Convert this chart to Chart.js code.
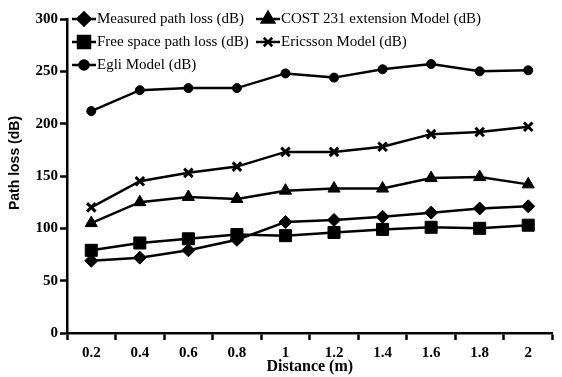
<!DOCTYPE html>
<html lang="en">

<head>
    <meta charset="UTF-8">
    <title>Path loss vs distance</title>
    <script src="https://cdn.jsdelivr.net/npm/chart.js"></script>
    <style>
        body { margin: 0; background: #fff; }
        #wrap { width: 562px; height: 377px; }
    </style>
</head>

<body>
    <div id="wrap"><canvas id="loss-chart" width="562" height="377"></canvas></div>

    <script>
        const distances = ['0.2', '0.4', '0.6', '0.8', '1', '1.2', '1.4', '1.6', '1.8', '2'];
        const yTicks = [0, 50, 100, 150, 200, 250, 300];

        const measured = [69, 72, 79, 89, 106, 108, 111, 115, 119, 121];
        const freeSpace = [79, 86, 90, 94, 93, 96, 99, 101, 100, 103];
        const egli = [212, 232, 234, 234, 248, 244, 252, 257, 250, 251];
        const cost231 = [105, 125, 130, 128, 136, 138, 138, 148, 149, 142];
        const ericsson = [120, 145, 153, 159, 173, 173, 178, 190, 192, 197];

        const serif = "'Liberation Serif', 'Times New Roman', serif";
        const sans = "'Liberation Sans', Arial, sans-serif";

        function series(label, data, style, radius, extra) {
            return Object.assign({
                label: label,
                data: data,
                borderColor: '#000',
                backgroundColor: '#000',
                borderWidth: 2.5,
                tension: 0,
                pointStyle: style,
                pointRadius: radius,
                pointBorderWidth: 1,
                pointBorderColor: '#000',
                pointBackgroundColor: '#000'
            }, extra || {});
        }

        // two-column legend inside the plot plus the y title, drawn by hand
        const gridLegend = {
            id: 'gridLegend',
            afterDraw(chart, args, opts) {
                const ctx = chart.ctx;
                ctx.save();
                ctx.font = opts.font;
                ctx.textBaseline = 'middle';
                ctx.fillStyle = '#000';
                opts.slots.forEach((slot, i) => {
                    const ds = chart.data.datasets[i];
                    ctx.strokeStyle = '#000';
                    ctx.lineWidth = 2.5;
                    ctx.beginPath();
                    ctx.moveTo(slot.x, slot.y);
                    ctx.lineTo(slot.x + 24, slot.y);
                    ctx.stroke();
                    Chart.helpers.drawPoint(ctx, {
                        pointStyle: ds.pointStyle,
                        radius: ds.pointRadius,
                        borderWidth: ds.pointBorderWidth,
                        rotation: 0
                    }, slot.x + 12, slot.y);
                    ctx.fillStyle = '#000';
                    ctx.fillText(ds.label, slot.x + 25, slot.y);
                });

                ctx.translate(opts.yTitle.x, opts.yTitle.y);
                ctx.rotate(-Math.PI / 2);
                ctx.font = opts.yTitle.font;
                ctx.textAlign = 'center';
                ctx.fillText(opts.yTitle.text, 0, 0);
                ctx.restore();
            }
        };

        new Chart(document.getElementById('loss-chart').getContext('2d'), {
            type: 'line',
            data: {
                labels: distances,
                datasets: [
                    series('Measured path loss (dB)', measured, 'rectRot', 6.5),
                    series('Free space path loss (dB)', freeSpace, 'rect', 8.5),
                    series('Egli Model (dB)', egli, 'circle', 4.5),
                    series('COST 231 extension Model (dB)', cost231, 'triangle', 7),
                    series('Ericsson Model (dB)', ericsson, 'crossRot', 6, { pointBorderWidth: 3 })
                ]
            },
            options: {
                responsive: false,
                animation: false,
                layout: { padding: { top: 19, right: 7, left: 0, bottom: 0 } },
                plugins: {
                    legend: { display: false },
                    tooltip: { enabled: false },
                    gridLegend: {
                        font: '15px ' + serif,
                        slots: [
                            { x: 72, y: 19 },
                            { x: 72, y: 42 },
                            { x: 72, y: 65 },
                            { x: 256, y: 19 },
                            { x: 256, y: 42 }
                        ],
                        yTitle: { text: 'Path loss (dB)', x: 15, y: 163, font: 'bold 14px ' + sans }
                    }
                },
                scales: {
                    x: {
                        offset: true,
                        grid: {
                            offset: true,
                            drawOnChartArea: false,
                            drawTicks: true,
                            tickLength: 7,
                            tickWidth: 2.5,
                            tickColor: '#000'
                        },
                        border: { color: '#000', width: 2.5 },
                        ticks: {
                            color: '#000',
                            padding: 4,
                            font: { family: serif, size: 15, weight: 'bold' }
                        },
                        title: {
                            display: true,
                            text: 'Distance (m)',
                            color: '#000',
                            padding: { top: 0, bottom: 1 },
                            font: { family: serif, size: 16, weight: 'bold' }
                        },
                        afterFit(axis) { axis.height = 44; }
                    },
                    y: {
                        min: 0,
                        max: 300,
                        afterBuildTicks(axis) { axis.ticks = yTicks.map(v => ({ value: v })); },
                        grid: {
                            drawOnChartArea: false,
                            tickLength: 7,
                            tickWidth: 2.5,
                            tickColor: '#000'
                        },
                        border: { color: '#000', width: 2.5 },
                        ticks: {
                            color: '#000',
                            padding: 2,
                            font: { family: serif, size: 15, weight: 'bold' }
                        },
                        afterFit(axis) { axis.width = 67; }
                    }
                }
            },
            plugins: [gridLegend]
        });
    </script>
</body>

</html>
